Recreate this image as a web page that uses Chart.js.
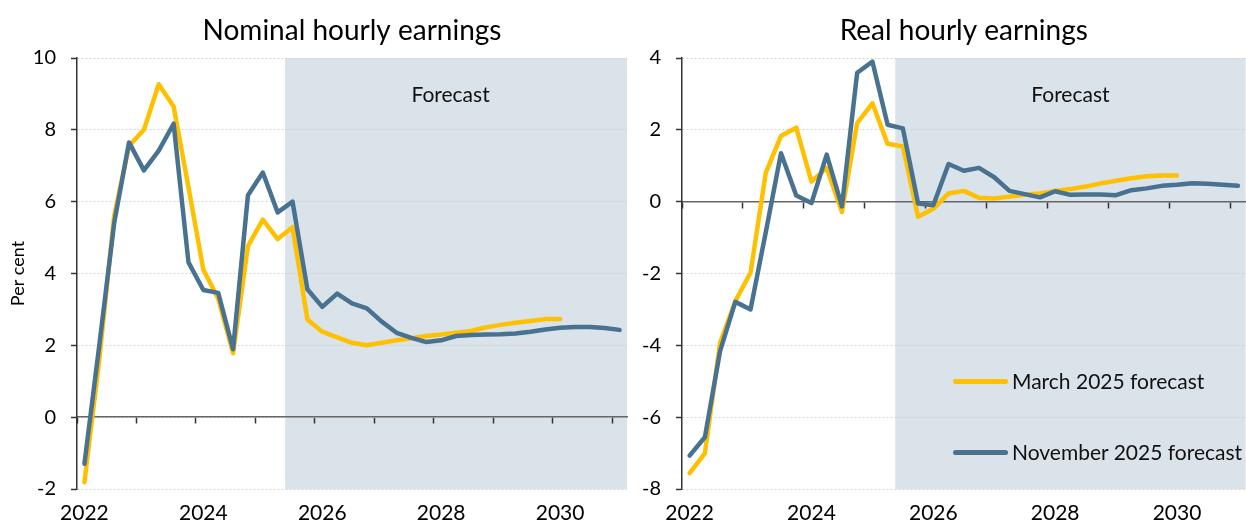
<!DOCTYPE html>
<html>
<head>
<meta charset="utf-8">
<script src="https://cdn.jsdelivr.net/npm/chart.js@4.4.1/dist/chart.umd.min.js"></script>
<style>
  html, body { margin: 0; padding: 0; background: #fff; overflow: hidden; }
  #wrap { position: relative; width: 1246px; height: 526px; overflow: hidden; font-family: Lato, sans-serif; }
  .box { position: absolute; top: 0; height: 526px; }
  #leftBox { left: 0; width: 634px; }
  #rightBox { left: 630px; width: 620px; }
  .legend { position: absolute; left: 953px; display: flex; align-items: center; font-size: 21px; color: #111; line-height: 24px; white-space: nowrap; }
  .legend .swatch { display: inline-block; width: 55px; height: 5px; border-radius: 3px; margin-right: 4px; }
</style>
</head>
<body>
<div id="wrap">
  <div class="box" id="leftBox"><canvas id="nominal"></canvas></div>
  <div class="box" id="rightBox"><canvas id="real"></canvas></div>
  <div class="legend" style="top:369px"><span class="swatch" style="background:#FFC000"></span>March 2025 forecast</div>
  <div class="legend" style="top:440px"><span class="swatch" style="background:#48728F"></span>November 2025 forecast</div>
</div>
<script>
// quarterly categories
const quarters = [
  "2022Q1","2022Q2","2022Q3","2022Q4","2023Q1","2023Q2","2023Q3","2023Q4",
  "2024Q1","2024Q2","2024Q3","2024Q4","2025Q1","2025Q2","2025Q3","2025Q4",
  "2026Q1","2026Q2","2026Q3","2026Q4","2027Q1","2027Q2","2027Q3","2027Q4",
  "2028Q1","2028Q2","2028Q3","2028Q4","2029Q1","2029Q2","2029Q3","2029Q4",
  "2030Q1","2030Q2","2030Q3","2030Q4","2031Q1"
];
const labelledQuarters = ["2022Q1", "2024Q1", "2026Q1", "2028Q1", "2030Q1"];
const yearLabels = ["2022", "2024", "2026", "2028", "2030"];
const forecastStart = "2025Q3";

// nominal hourly earnings growth, per cent
const nominalMarch = [-1.81, 1.6, 5.6, 7.55, 8.0, 9.27, 8.65, 6.4, 4.11, 3.3, 1.78, 4.76, 5.5, 4.96, 5.29,
  2.72, 2.38, 2.22, 2.07, 2.0, 2.07, 2.14, 2.2, 2.26, 2.3, 2.35, 2.4, 2.5, 2.57, 2.63, 2.68, 2.73, 2.73];
const nominalNov = [-1.3, 2.0, 5.4, 7.65, 6.87, 7.42, 8.17, 4.31, 3.54, 3.46, 1.89, 6.18, 6.81, 5.7, 6.0,
  3.56, 3.07, 3.44, 3.17, 3.03, 2.66, 2.35, 2.21, 2.09, 2.14, 2.26, 2.29, 2.3, 2.31, 2.33, 2.38, 2.44,
  2.49, 2.51, 2.51, 2.48, 2.43];

// real hourly earnings growth, per cent
const realMarch = [-7.56, -7.01, -3.93, -2.77, -1.98, 0.8, 1.83, 2.06, 0.56, 0.94, -0.29, 2.19, 2.74, 1.61, 1.54,
  -0.42, -0.2, 0.23, 0.3, 0.11, 0.09, 0.14, 0.19, 0.23, 0.3, 0.35, 0.42, 0.51, 0.58, 0.65, 0.71, 0.73, 0.73];
const realNov = [-7.07, -6.56, -4.16, -2.79, -3.0, -0.85, 1.35, 0.17, -0.04, 1.31, -0.13, 3.59, 3.9, 2.14, 2.04,
  -0.05, -0.1, 1.05, 0.86, 0.94, 0.68, 0.3, 0.21, 0.12, 0.29, 0.19, 0.2, 0.2, 0.18, 0.32, 0.37, 0.44,
  0.47, 0.51, 0.5, 0.47, 0.44];

const nominalTicks = [-2, 0, 2, 4, 6, 8, 10];
const realTicks = [-8, -6, -4, -2, 0, 2, 4];

const yellow = "#FFC000";
const blue = "#48728F";
const shade = "#DAE2EA";
const fontFamily = "Lato, sans-serif";

const forecastPlugin = {
  id: "forecast",
  beforeDraw(chart) {
    const { ctx, chartArea, scales } = chart;
    const x0 = scales.x.getPixelForValue(quarters.indexOf(forecastStart) - 0.5);
    ctx.save();
    ctx.fillStyle = shade;
    ctx.fillRect(x0, chartArea.top, chartArea.right - x0, chartArea.bottom - chartArea.top);
    // label centred on the visible part of the shaded band
    const visibleRight = Math.min(chartArea.right, 616);
    ctx.fillStyle = "#111";
    ctx.font = "21px " + fontFamily;
    ctx.textAlign = "center";
    ctx.textBaseline = "middle";
    ctx.fillText("Forecast", (x0 + visibleRight) / 2, chartArea.top + 37);
    ctx.restore();
  }
};

function buildChart(id, cfg) {
  const yTicks = cfg.ticks;
  return new Chart(document.getElementById(id), {
    type: "line",
    data: {
      labels: quarters,
      datasets: [
        { label: "March 2025 forecast", data: cfg.march, borderColor: yellow, backgroundColor: yellow, order: 1 },
        { label: "November 2025 forecast", data: cfg.nov, borderColor: blue, backgroundColor: blue, order: 0 }
      ]
    },
    options: {
      responsive: true,
      maintainAspectRatio: false,
      animation: false,
      layout: { padding: { left: 0, right: cfg.padRight, top: 0, bottom: 0 } },
      elements: {
        point: { radius: 0 },
        line: { borderWidth: 4.5, tension: 0, borderCapStyle: "round", borderJoinStyle: "round" }
      },
      plugins: {
        legend: { display: false },
        tooltip: { enabled: false },
        title: {
          display: true,
          text: cfg.title,
          fullSize: false,
          color: "#000",
          font: { family: fontFamily, size: 28, weight: "normal" },
          padding: { top: 14.2, bottom: 10.2 }
        }
      },
      scales: {
        x: {
          type: "category",
          offset: true,
          grid: { display: false, drawTicks: false },
          border: { display: false },
          ticks: {
            autoSkip: false,
            maxRotation: 0,
            padding: 12,
            color: "#000",
            font: { family: fontFamily, size: 21 },
            callback: (v, i) => {
              const k = labelledQuarters.indexOf(quarters[i]);
              return k >= 0 ? yearLabels[k] : "";
            }
          },
          afterFit: s => { s.height = 37; }
        },
        x0: {
          type: "category",
          position: { y: 0 },
          offset: true,
          grid: {
            offset: true,
            drawOnChartArea: false,
            tickLength: 6,
            tickWidth: 1.5,
            color: c => (c.index % 4 === 0 ? "#333" : "rgba(0,0,0,0)")
          },
          border: { display: true, color: "#666", width: 1.5 },
          ticks: { display: false }
        },
        y: {
          min: yTicks[0],
          max: yTicks[yTicks.length - 1],
          ticks: { stepSize: 2, padding: 15, color: "#000", font: { family: fontFamily, size: 20 } },
          grid: { color: "#d2d2d2", lineWidth: 1, tickLength: 6, tickColor: "#333", tickWidth: 1.5 },
          border: { display: true, color: "#333", width: 1.5, dash: [2, 2] },
          title: {
            display: !!cfg.yTitle,
            text: cfg.yTitle || "",
            color: "#000",
            font: { family: fontFamily, size: 18 },
            padding: { top: 7, bottom: 0 }
          },
          afterFit: s => { s.width = cfg.yWidth; }
        }
      }
    },
    plugins: [forecastPlugin]
  });
}

buildChart("nominal", {
  title: "Nominal hourly earnings",
  march: nominalMarch,
  nov: nominalNov,
  ticks: nominalTicks,
  yTitle: "Per cent",
  yWidth: 77,
  padRight: 7
});

buildChart("real", {
  title: "Real hourly earnings",
  march: realMarch,
  nov: realNov,
  ticks: realTicks,
  yWidth: 52,
  padRight: 0
});
</script>
</body>
</html>
